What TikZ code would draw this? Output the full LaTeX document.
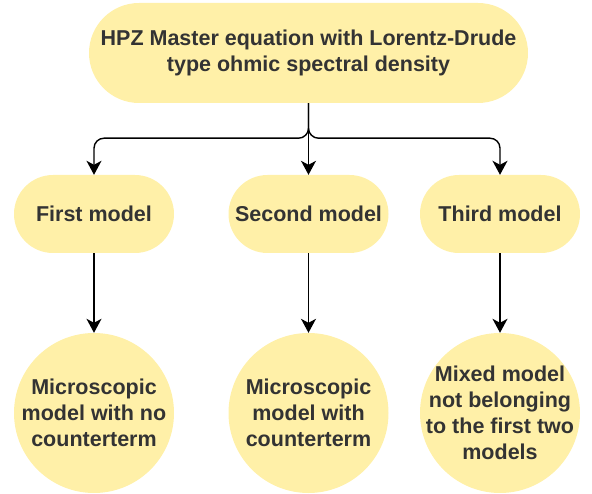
\documentclass[tikz,border=0pt]{standalone}
\usepackage{fontspec}
\setmainfont{Liberation Sans}
\usetikzlibrary{arrows.meta}
\definecolor{boxfill}{RGB}{255,240,168}
\definecolor{boxtext}{RGB}{51,51,51}

\begin{document}
\begin{tikzpicture}[x=1pt,y=1pt,
		words/.style={text=boxtext, align=center, inner sep=0pt,
			font=\fontsize{21.5}{26}\selectfont\bfseries},
		box/.style={words, fill=boxfill},
		pill/.style={box, rectangle, rounded corners=39pt, minimum width=160pt, minimum height=78pt},
		disc/.style={circle, fill=boxfill, inner sep=0pt, minimum size=160pt},
		arr/.style={-{Stealth[length=14pt,width=15pt,inset=4pt]}, line width=1.4pt}]
				\useasboundingbox (0,0) rectangle (592,-494);
				% the master equation on top
				\node[box, rectangle, rounded corners=50pt, minimum width=439pt, minimum height=100pt]
					(master) at (308.5,-53) {HPZ Master equation with Lorentz-Drude\\type ohmic spectral density};
				% the three models
				\node[pill] (first) at (94,-214) {First model};
				\node[pill] (second) at (308.5,-214) {Second model};
				\node[pill] (third) at (500,-214) {Third model};
				% what each model is (text as a label so the circles keep their size)
				\node[disc, label={[words]center:Microscopic\\model with no\\counterterm}] (micro) at (94,-413) {};
				\node[disc, label={[words]center:Microscopic\\model with\\counterterm}] (counter) at (308.5,-413) {};
				\node[disc, label={[words]center:Mixed model\\not belonging\\to the first two\\models}] (mixed) at (500,-413) {};
				% branches
				\draw[arr] (master.south) -- (second.north);
				\draw[arr, rounded corners=10pt] (master.south) -- ++(0,-35) -| (first.north);
				\draw[arr, rounded corners=10pt] (master.south) -- ++(0,-35) -| (third.north);
				\draw[arr] (first.south) -- (micro.north);
				\draw[arr] (second.south) -- (counter.north);
				\draw[arr] (third.south) -- (mixed.north);
			\end{tikzpicture}
\end{document}
